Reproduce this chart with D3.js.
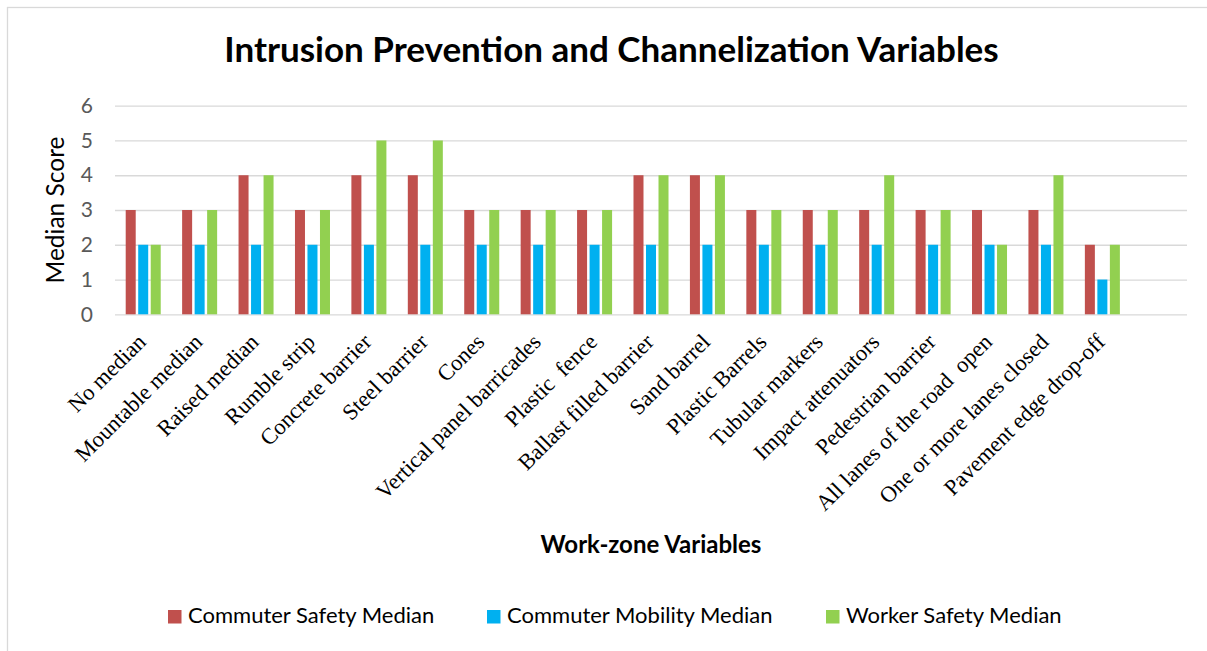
<!DOCTYPE html>
<html>
<head>
<meta charset="utf-8">
<script src="https://cdn.jsdelivr.net/npm/d3@7"></script>
<style>
  body { margin: 0; background: #fff; }
  svg text { white-space: pre; }
</style>
</head>
<body>
<div id="chart"></div>
<script>
// chart values
var categories = ["No median", "Mountable median", "Raised median", "Rumble strip", "Concrete barrier",
	"Steel barrier", "Cones", "Vertical panel barricades", "Plastic  fence", "Ballast filled barrier",
	"Sand barrel", "Plastic Barrels", "Tubular markers", "Impact attenuators", "Pedestrian barrier",
	"All lanes of the road  open", "One or more lanes closed", "Pavement edge drop-off"];
var commuterSafety   = [3, 3, 4, 3, 4, 4, 3, 3, 3, 4, 4, 3, 3, 3, 3, 3, 3, 2];
var commuterMobility = [2, 2, 2, 2, 2, 2, 2, 2, 2, 2, 2, 2, 2, 2, 2, 2, 2, 1];
var workerSafety     = [2, 3, 4, 3, 5, 5, 3, 3, 3, 4, 4, 3, 3, 4, 3, 2, 4, 2];
var seriesNames = ["Commuter Safety Median", "Commuter Mobility Median", "Worker Safety Median"];
var yTicks = [0, 1, 2, 3, 4, 5, 6];

var colors = ["#C0504D", "#00B0F0", "#92D050"];
var seriesValues = [commuterSafety, commuterMobility, workerSafety];

var W = 1207, H = 651;
var margin = {top: 105.7, right: 20, bottom: 336.7, left: 115},
	width = 1187 - margin.left,
	height = H - margin.top - margin.bottom;

var sans = "Lato, 'Open Sans', sans-serif";

var svg = d3.select("#chart")
  .append("svg")
	.attr("width", W)
	.attr("height", H);

// outer chart border (runs off the page on right and bottom)
svg.append("rect")
	.attr("x", 7.5).attr("y", 7.5)
	.attr("width", W + 20).attr("height", H + 20)
	.attr("fill", "none")
	.attr("stroke", "#d9d9d9")
	.attr("stroke-width", 1.3);

svg.append("text")
	.attr("x", 611.5)
	.attr("y", 62)
	.attr("text-anchor", "middle")
	.style("font-family", sans)
	.style("font-weight", "bold")
	.style("font-size", "35px")
	.style("fill", "#000")
	.text("Intrusion Prevention and Channelization Variables");

var g = svg.append("g")
	.attr("transform", "translate(" + margin.left + "," + margin.top + ")");

// one empty slot after the last category, like the original
var slots = categories.map(function(d, i) { return i; }).concat([categories.length]);

var x0 = d3.scaleBand()
	.domain(slots)
	.range([0, width])
	.padding(0);

var x1 = d3.scaleBand()
	.domain([0, 1, 2])
	.range([0, x0.bandwidth()])
	.paddingInner(0.2)
	.paddingOuter(0.856);

var y = d3.scaleLinear()
	.domain([0, 6])
	.range([height, 0]);

// gridlines
g.append("g")
	.call(d3.axisLeft(y).tickValues(yTicks).tickSize(-width).tickFormat(""))
	.call(function(a) { a.select(".domain").remove(); })
	.selectAll("line")
	.attr("stroke", "#d9d9d9")
	.attr("stroke-width", 1.3);

// y tick labels
var yAxis = g.append("g")
	.call(d3.axisLeft(y).tickValues(yTicks).tickSize(0).tickPadding(22).tickFormat(d3.format("d")));
yAxis.select(".domain").remove();
yAxis.selectAll("text")
	.style("font-family", sans)
	.style("font-size", "21px")
	.style("fill", "#595959");

// bars
var groups = g.selectAll(".grp")
	.data(categories)
	.enter().append("g")
	.attr("class", "grp")
	.attr("transform", function(d, i) { return "translate(" + x0(i) + ",0)"; });

groups.selectAll("rect")
	.data(function(d, i) { return seriesValues.map(function(s, k) { return {k: k, v: s[i]}; }); })
	.enter().append("rect")
	.attr("x", function(d) { return x1(d.k); })
	.attr("width", x1.bandwidth())
	.attr("y", function(d) { return y(d.v); })
	.attr("height", function(d) { return height - y(d.v); })
	.attr("fill", function(d) { return colors[d.k]; });

// x axis labels, rotated
var xAxis = g.append("g")
	.attr("transform", "translate(0," + height + ")")
	.call(d3.axisBottom(x0).tickSize(0).tickFormat(function(i) { return categories[i] || ""; }));
xAxis.select(".domain").remove();
xAxis.selectAll("text")
	.attr("text-anchor", "end")
	.attr("x", 0).attr("y", 0).attr("dy", 0)
	.attr("transform", "translate(4,29) rotate(-45)")
	.style("font-family", "'Liberation Serif', 'Times New Roman', serif")
	.style("font-size", "22.5px")
	.style("fill", "#000");

svg.append("text")
	.attr("transform", "translate(64,210) rotate(-90)")
	.attr("text-anchor", "middle")
	.style("font-family", sans)
	.style("font-size", "24.5px")
	.style("fill", "#000")
	.text("Median Score");

svg.append("text")
	.attr("x", 651)
	.attr("y", 553)
	.attr("text-anchor", "middle")
	.style("font-family", sans)
	.style("font-weight", "bold")
	.style("font-size", "24px")
	.style("fill", "#000")
	.text("Work-zone Variables");

// legend
var legendX = [168, 487, 826];
var legend = svg.selectAll(".leg")
	.data(seriesNames)
	.enter().append("g")
	.attr("class", "leg")
	.attr("transform", function(d, i) { return "translate(" + legendX[i] + ",610)"; });
legend.append("rect")
	.attr("width", 13.5).attr("height", 13.5)
	.attr("fill", function(d, i) { return colors[i]; });
legend.append("text")
	.attr("x", 20)
	.attr("y", 13)
	.style("font-family", sans)
	.style("font-size", "22px")
	.style("fill", "#000")
	.text(function(d) { return d; });
</script>
</body>
</html>
